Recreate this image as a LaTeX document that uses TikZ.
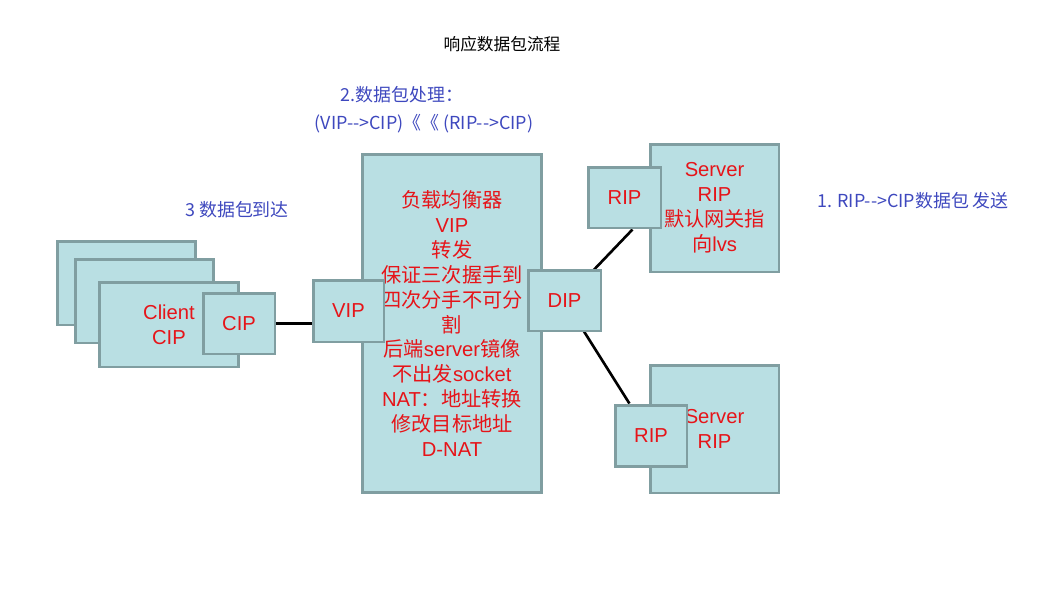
\documentclass[tikz,border=0pt]{standalone}
\usepackage{fontspec}
\usetikzlibrary{backgrounds}
\setmainfont{Liberation Sans}
\newfontfamily\cjk{Noto Sans CJK SC}
\newcommand{\zh}[1]{{\cjk #1}}
\definecolor{boxfill}{RGB}{185,223,227}
\definecolor{boxline}{RGB}{128,158,161}
\definecolor{lbred}{RGB}{230,20,25}
\definecolor{noteblue}{RGB}{62,72,190}

\begin{document}
\begin{tikzpicture}[x=0.02cm, y=-0.02cm,
		box/.style={draw=boxline, fill=boxfill, line width=1.7pt, inner sep=0pt},
		redtxt/.style={text=lbred, align=center, font=\fontsize{11.5}{14.2}\selectfont},
		note/.style={text=noteblue, font=\cjk\fontsize{10.2}{12}\selectfont},
		link/.style={line width=1.5pt, black}]
		\useasboundingbox (0,0) rectangle (1060,596);
		\node[font=\cjk\fontsize{9.5}{11}\selectfont] (title) at (502,44) {响应数据包流程};  % title
		\node[note] (step2) at (402,95) {2.数据包处理：};
		\node[note] (step2b) at (424,124) {(VIP-->CIP)《《 (RIP-->CIP)};
		\node[note] (step3) at (237,210) {3 数据包到达};
		\node[note] (step1) at (913,201) {1. RIP-->CIP数据包 发送};
		% clients
		\node[box, minimum width=2.78cm, minimum height=1.68cm] (client1) at (126.5,283) {};
		\node[box, minimum width=2.78cm, minimum height=1.68cm] (client2) at (144.5,301) {};
		\node[box, redtxt, minimum width=2.8cm, minimum height=1.7cm] (client3) at (169,324.5) {Client\\CIP};
		\node[box, redtxt, minimum width=1.44cm, minimum height=1.22cm] (cip) at (239,323.5) {CIP};
		% load balancer
		\node[box, redtxt, minimum width=3.6cm, minimum height=6.78cm] (lb) at (452,323.5)
			{\zh{负载均衡器}\\VIP\\\zh{转发}\\\zh{保证三次握手到}\\\zh{四次分手不可分}\\\zh{割}\\
			 \zh{后端}server\zh{镜像}\\\zh{不出发}socket\\NAT\zh{：地址转换}\\\zh{修改目标地址}\\D-NAT};
		\node[box, redtxt, minimum width=1.42cm, minimum height=1.24cm] (vip) at (348.5,311) {VIP};
		% servers
		\node[box, redtxt, minimum width=2.58cm, minimum height=2.56cm] (server1) at (714.5,208)
			{Server\\RIP\\\zh{默认网关指}\\\zh{向}lvs};
		\node[box, redtxt, minimum width=2.58cm, minimum height=2.56cm] (server2) at (714.5,429) {Server\\RIP};
		\node[box, redtxt, minimum width=1.46cm, minimum height=1.22cm] (dip) at (564.5,300.5) {DIP};
		\node[box, redtxt, minimum width=1.46cm, minimum height=1.22cm] (rip1) at (624.5,197.5) {RIP};
		\node[box, redtxt, minimum width=1.44cm, minimum height=1.22cm] (rip2) at (651,435.5) {RIP};
		\begin{scope}[on background layer]
			\draw[link] (cip.east) -- (cip.east -| vip.west);  % CIP -- VIP
			\draw[link] (dip.center) -- (rip1.-76);  % DIP -- RIP 1
			\draw[link] (dip.center) -- (rip2.124);  % DIP -- RIP 2
		\end{scope}
	\end{tikzpicture}
\end{document}
